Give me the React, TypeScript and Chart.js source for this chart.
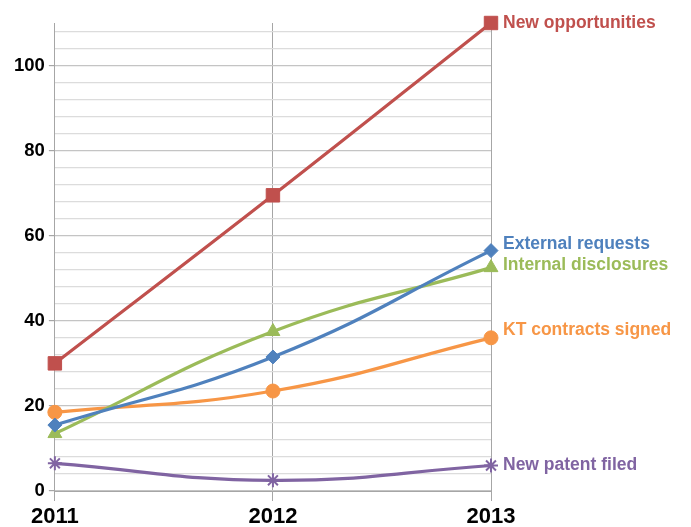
import React, { useEffect, useRef } from "react";
import { Chart, registerables } from "chart.js";

Chart.register(...registerables);

const years = ["2011", "2012", "2013"];
const newOpportunities = [30, 69.5, 110];
const externalRequests = [15.5, 31.5, 56.5];
const internalDisclosures = [13.5, 37.5, 52.5];
const ktContracts = [18.5, 23.5, 36];
const newPatent = [6.5, 2.5, 6];
const seriesNames = [
  "New opportunities",
  "External requests",
  "Internal disclosures",
  "KT contracts signed",
  "New patent filed",
];
const yTickValues = [0, 4, 8, 12, 16, 20, 24, 28, 32, 36, 40, 44, 48, 52, 56, 60, 64, 68, 72, 76, 80, 84, 88, 92, 96, 100, 104, 108];

const FONT = "'Liberation Sans', Arial, Helvetica, sans-serif";

const endLabels = {
  id: "endLabels",
  afterDatasetsDraw(chart: any, _args: any, opts: any) {
    const ctx = chart.ctx;
    ctx.save();
    ctx.font = `bold 17.5px ${FONT}`;
    ctx.textBaseline = "middle";
    ctx.textAlign = "left";
    chart.data.datasets.forEach((ds: any, i: number) => {
      const meta = chart.getDatasetMeta(i);
      const pt = meta.data[meta.data.length - 1];
      if (!pt) return;
      ctx.fillStyle = ds.borderColor;
      const dy = (opts.offsets && opts.offsets[i]) || 0;
      ctx.fillText(ds.label, pt.x + 12, pt.y + dy);
    });
    ctx.restore();
  },
};

export default function App() {
  const ref = useRef<HTMLCanvasElement | null>(null);
  useEffect(() => {
    if (!ref.current) return;
    const mk = (label: string, data: number[], color: string, style: string, r: number) => ({
      label,
      data,
      borderColor: color,
      backgroundColor: color,
      pointBackgroundColor: color,
      pointBorderColor: color,
      pointBorderWidth: style === "star" ? 2 : 1,
      pointStyle: style,
      pointRadius: r,
      borderWidth: 3.2,
      tension: 0.45,
      clip: false as any,
    });
    const chart = new Chart(ref.current, {
      type: "line",
      data: {
        labels: years,
        datasets: [
          mk(seriesNames[0], newOpportunities, "#c0504d", "rect", 9.5),
          mk(seriesNames[1], externalRequests, "#4f81bd", "rectRot", 7),
          mk(seriesNames[2], internalDisclosures, "#9bbb59", "triangle", 8),
          mk(seriesNames[3], ktContracts, "#f79646", "circle", 7),
          mk(seriesNames[4], newPatent, "#8064a2", "star", 7),
        ] as any,
      },
      options: {
        animation: false,
        responsive: false,
        maintainAspectRatio: false,
        layout: { padding: { top: 23, right: 200, bottom: -6, left: 10 } },
        plugins: {
          legend: { display: false },
          tooltip: { enabled: false },
          endLabels: { offsets: [0, -6, -2, -8, 0] },
        } as any,
        scales: {
          x: {
            offset: false,
            grid: {
              color: "#a6a6a6",
              lineWidth: 1,
              tickLength: 10,
              tickColor: "#a6a6a6",
            },
            border: { color: "#a6a6a6" },
            ticks: {
              color: "#000",
              padding: 5,
              font: { family: FONT, size: 22, weight: "bold", lineHeight: 1 },
              maxRotation: 0,
            },
          },
          y: {
            min: 0,
            max: 110,
            afterBuildTicks: (axis: any) => {
              axis.ticks = yTickValues.map((v) => ({ value: v }));
            },
            grid: {
              color: (c: any) => (c.tick && c.tick.value % 20 === 0 ? "#c4c4c4" : "#dcdcdc"),
              lineWidth: 1.2,
              tickLength: 6,
              tickColor: (c: any) => (c.tick && c.tick.value % 20 === 0 ? "#a6a6a6" : "rgba(0,0,0,0)"),
            },
            border: { color: "#a6a6a6" },
            ticks: {
              color: "#000",
              padding: 4,
              autoSkip: false,
              font: { family: FONT, size: 18.5, weight: "bold" },
              callback: (v: any) => (Number(v) % 20 === 0 ? String(v) : ""),
            },
          },
        },
      },
      plugins: [endLabels],
    });
    return () => chart.destroy();
  }, []);
  return (
    <div style={{ position: "fixed", left: 0, top: 0, width: 691, height: 527, background: "#fff" }}>
      <canvas ref={ref} width={691} height={527} style={{ width: 691, height: 527, display: "block" }} />
    </div>
  );
}
